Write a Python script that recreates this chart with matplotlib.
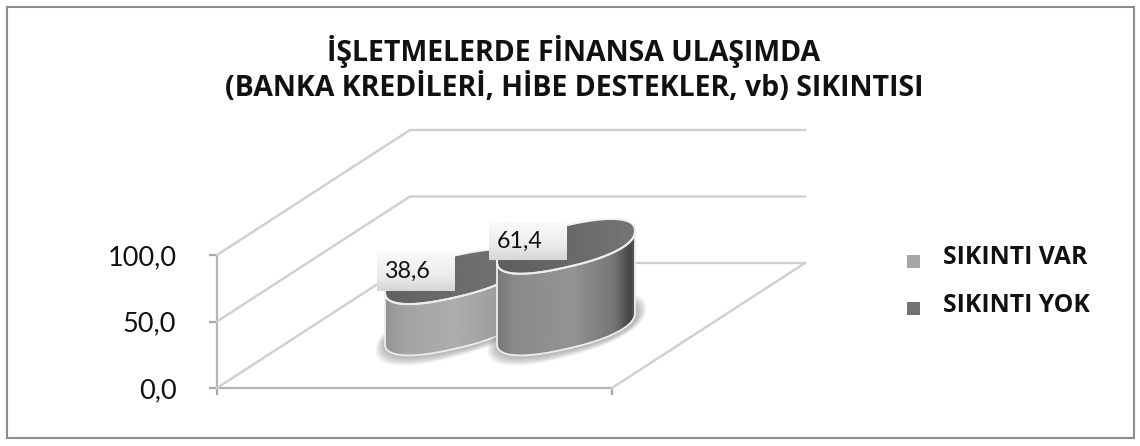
import numpy as np
import matplotlib
matplotlib.use("Agg")
import matplotlib.pyplot as plt
from matplotlib.patches import Polygon, Rectangle
from matplotlib.ticker import FuncFormatter

plt.rcParams['font.family'] = ['Lato', 'DejaVu Sans']

title = "İŞLETMELERDE FİNANSA ULAŞIMDA\n(BANKA KREDİLERİ, HİBE DESTEKLER, vb) SIKINTISI"
categories = ["SIKINTI VAR", "SIKINTI YOK"]
values = [38.6, 61.4]
y_ticks = [0, 50, 100]
legend_colors = ["#a6a6a6", "#737373"]

W, H = 1140, 446
fig = plt.figure(figsize=(W / 100, H / 100), dpi=100, facecolor="white")

# value axis, the real scale for the bar heights
val_ax = fig.add_axes([217 / W, (H - 388) / H, 395 / W, 133 / H])
val_ax.set_ylim(0, 100)
val_ax.set_xlim(0, 1)
val_ax.set_yticks(y_ticks)
val_ax.set_xticks([0, 1])
val_ax.set_xticklabels(["", ""])
val_ax.yaxis.set_major_formatter(FuncFormatter(lambda v, p: f"{v:.1f}".replace(".", ",")))
val_ax.tick_params(axis="y", labelsize=19.5, length=5.8, width=1.6, color="#a8a8a8", pad=23.5, labelcolor="#111111")
val_ax.tick_params(axis="x", length=5, width=1.6, color="#a8a8a8")
val_ax.patch.set_alpha(0)
for side in ["top", "right"]:
    val_ax.spines[side].set_visible(False)
for side in ["left", "bottom"]:
    val_ax.spines[side].set_color("#b4b4b4")
    val_ax.spines[side].set_linewidth(1.6)

# overlay in pixel coords for the fake 3d part
ax = fig.add_axes([0, 0, 1, 1])
ax.patch.set_alpha(0)
ax.axis("off")

ax.add_patch(Rectangle((6.5, 6.5), 1127, 431, fill=False, ec="#8c8c8c", lw=1.5))

# walls and floor
grid_col = "#cfcfcf"
px_per_unit = 133 / 100
dx, dy = 193, 125
for v in y_ticks:
    y0 = 388 - v * px_per_unit
    ax.plot([217, 217 + dx, 217 + dx + 395], [y0, y0 - dy, y0 - dy], color=grid_col, lw=1.7, solid_joinstyle="miter")
ax.plot([612, 612 + dx], [388, 388 - dy], color=grid_col, lw=1.7)

A, B, S, P = 69, 21, -0.225, 0.85


def ring(t):
    # squashed superellipse, gives the rounded ends of the bars
    c, d = np.cos(t), np.sin(t)
    u = A * np.sign(c) * np.abs(c) ** P
    v = B * np.sign(d) * np.abs(d) ** P
    return u, S * u + v


def outline(cx, cy, a=0, b=0):
    t = np.linspace(0, 2 * np.pi, 300)
    u, w = ring(t)
    return cx + u * (A + a) / A, cy + w * (B + b) / B


def bar_height(v):
    p0 = val_ax.transData.transform((0, 0))
    p1 = val_ax.transData.transform((0, v))
    return p1[1] - p0[1]


def gradient_patch(xs, ys, stops_x, stops_g, zorder):
    poly = Polygon(np.column_stack([xs, ys]), closed=True, fc="none", ec="none", zorder=zorder)
    ax.add_patch(poly)
    grid = np.linspace(0, 1, 256)
    row = np.interp(grid, stops_x, stops_g)
    im = ax.imshow(row[None, :], cmap="gray", vmin=0, vmax=1, aspect="auto",
                   extent=[xs.min(), xs.max(), ys.max(), ys.min()], zorder=zorder)
    im.set_clip_path(poly)


centers = [454, 566]
floor_cy = 328
side_stops = [[0, 0.14, 0.5, 0.8, 1], [0, 0.12, 0.55, 0.85, 0.97, 1]]
side_grays = [[0.58, 0.64, 0.68, 0.62, 0.5], [0.46, 0.54, 0.58, 0.46, 0.27, 0.36]]
top_grays = [[0.38, 0.42, 0.46], [0.37, 0.41, 0.46]]

for i, (cx, v) in enumerate(zip(centers, values)):
    z = 3 + i * 4
    top_cy = floor_cy - bar_height(v)

    # soft shadow round the foot of the bar
    for k in range(7):
        sx, sy = outline(cx + 1, floor_cy + 1, a=10 - k * 1.4, b=7 - k)
        ax.fill(sx, sy, color="#666666", alpha=0.08, lw=0, zorder=z)

    tx, ty = outline(cx, top_cy)
    gradient_patch(tx, ty, [0, 0.5, 1], top_grays[i], z + 1)

    t_front = np.linspace(np.pi, 0, 200)
    fu, fw = ring(t_front)
    fx = cx + fu
    sx = np.concatenate([fx, fx[::-1]])
    sy = np.concatenate([top_cy + fw, (floor_cy + fw)[::-1]])
    gradient_patch(sx, sy, side_stops[i], side_grays[i], z + 1)

    ax.plot(tx, ty, color="#f2f2f2", lw=1.5, zorder=z + 2)
    ax.plot(np.append(sx, sx[0]), np.append(sy, sy[0]), color="#ededed", lw=1.3, zorder=z + 2)

    # value label box
    bx, by, bw, bh = cx - 77, top_cy - 25, 78, 39
    shade = np.interp(np.linspace(0, 1, 64), [0, 0.55, 1], [0.98, 0.93, 0.84])[:, None]
    ax.imshow(shade, cmap="gray", vmin=0, vmax=1, aspect="auto",
              extent=[bx, bx + bw, by + bh, by], zorder=20)
    ax.text(bx + 8, by + bh / 2 + 0.5, f"{v:.1f}".replace(".", ","), fontsize=16.8,
            color="#111111", va="center", ha="left", zorder=21)

ax.text(574, 69, title, fontsize=20.5, fontweight="bold", color="#111111", family=["Open Sans", "DejaVu Sans"],
        ha="center", va="center", linespacing=1.2, zorder=21)

for name, col, y, ty in zip(categories, legend_colors, [261, 308], [258, 306]):
    ax.add_patch(Rectangle((906.5, y - 6.5), 13, 13, fc=col, ec="none"))
    ax.text(943, ty, name, fontsize=17.8, fontweight="bold", color="#111111", va="center", ha="left",
            family=["Open Sans", "DejaVu Sans"])

ax.set_xlim(0, W)
ax.set_ylim(H, 0)

fig.savefig("out.png", dpi=100, facecolor="white")
